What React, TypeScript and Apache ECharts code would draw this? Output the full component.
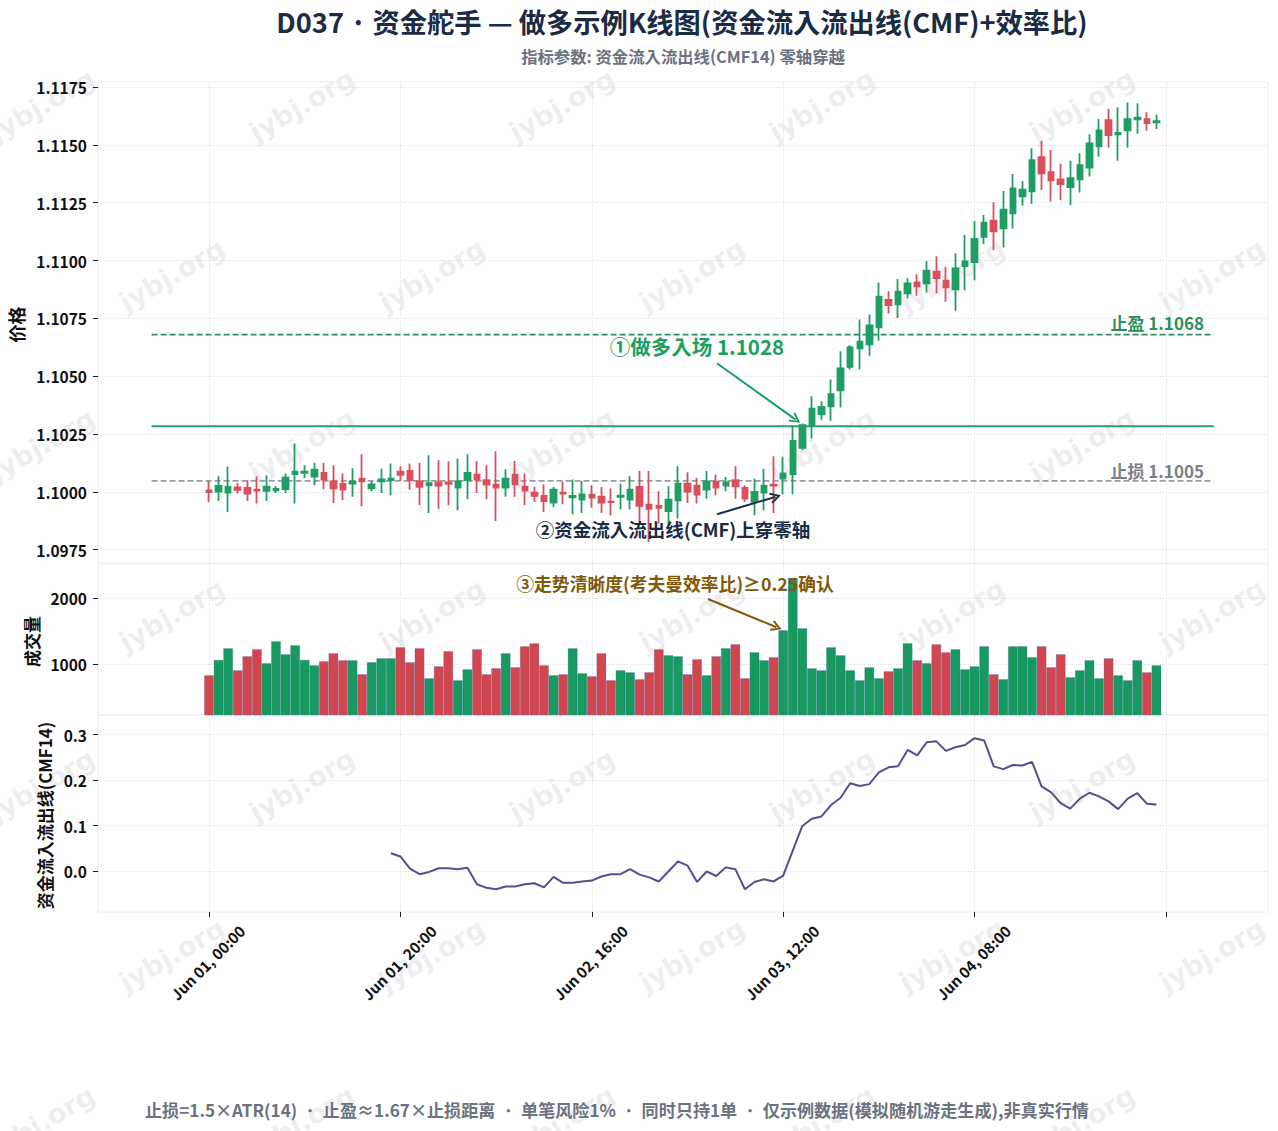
import React, { useEffect, useRef } from "react";
import * as echarts from "echarts";

const FONT = "'Noto Sans CJK JP', 'Noto Sans CJK SC', 'Noto Sans', sans-serif";
const WM_FONT = "'DejaVu Sans', sans-serif";
const titleText = "D037 · 资金舵手 — 做多示例K线图(资金流入流出线(CMF)+效率比)";
const subtitleText = "指标参数: 资金流入流出线(CMF14) 零轴穿越";
const footerText = "止损=1.5×ATR(14)  ·  止盈≈1.67×止损距离  ·  单笔风险1%  ·  同时只持1单  ·  仅示例数据(模拟随机游走生成),非真实行情";

const tickIndexes = [0, 20, 40, 60, 80, 100];
const tickLabels = ["Jun 01, 00:00", "Jun 01, 20:00", "Jun 02, 16:00", "Jun 03, 12:00", "Jun 04, 08:00", ""];
const priceTicks = [1.0975, 1.1, 1.1025, 1.105, 1.1075, 1.11, 1.1125, 1.115, 1.1175];
const volumeTicks = [1000, 2000];
const cmfTicks = [0, 0.1, 0.2, 0.3];

const opens = [
  1.10006, 1.10001, 1.09996, 1.10019, 1.10017, 1.10009, 1.10004, 1.10006, 1.10012, 1.10076,
  1.10082, 1.10066, 1.10082, 1.10045, 1.10034, 1.10035, 1.10057, 1.10015, 1.10045, 1.1005,
  1.10087, 1.1009, 1.10045, 1.10028, 1.10041, 1.10041, 1.10018, 1.1005, 1.10074, 1.1005,
  1.10031, 1.10018, 1.10074, 1.10022, 1.09996, 1.09982, 1.09953, 1.09996, 1.09976, 1.09966,
  1.09988, 1.09979, 1.09957, 1.09978, 1.09966, 1.10021, 1.09944, 1.09939, 1.09916, 1.09963,
  1.10035, 1.10027, 1.10009, 1.10044, 1.10027, 1.1005, 1.10017, 1.09956, 1.09996, 1.10031,
  1.10057, 1.10076, 1.1019, 1.10284, 1.10335, 1.10369, 1.10439, 1.1054, 1.1062, 1.10637,
  1.10711, 1.1083, 1.1081, 1.10858, 1.10905, 1.10901, 1.10952, 1.10913, 1.10875, 1.10976,
  1.10993, 1.11102, 1.11172, 1.11139, 1.11204, 1.11278, 1.11299, 1.11447, 1.11382, 1.11351,
  1.11317, 1.11351, 1.11402, 1.11494, 1.11607, 1.11546, 1.11563, 1.11611, 1.11611, 1.11598,
];
const closes = [
  1.09999, 1.10025, 1.10021, 1.10008, 1.09992, 1.10005, 1.10022, 1.10012, 1.10061, 1.10087,
  1.10087, 1.10096, 1.10053, 1.10014, 1.10009, 1.10044, 1.10045, 1.10032, 1.10053, 1.10057,
  1.10073, 1.1005, 1.10021, 1.10037, 1.10027, 1.10034, 1.10045, 1.10082, 1.10053, 1.10031,
  1.10018, 1.10057, 1.10032, 1.10005, 1.09982, 1.0996, 1.10009, 1.09992, 1.09982, 1.09989,
  1.09975, 1.09953, 1.09955, 1.09983, 1.10009, 1.09939, 1.09926, 1.09931, 1.09966, 1.10035,
  1.10001, 1.09988, 1.10045, 1.10018, 1.10041, 1.10024, 1.0997, 1.09999, 1.10027, 1.10027,
  1.10079, 1.1022, 1.10288, 1.1036, 1.10367, 1.10422, 1.10533, 1.10624, 1.10649, 1.10719,
  1.10844, 1.10807, 1.10865, 1.10901, 1.10888, 1.10956, 1.10924, 1.10884, 1.10966, 1.10996,
  1.11094, 1.11164, 1.11126, 1.1122, 1.11312, 1.11307, 1.11434, 1.11377, 1.11347, 1.1133,
  1.11356, 1.11412, 1.11507, 1.11563, 1.11542, 1.11552, 1.11611, 1.11618, 1.11594, 1.11603,
];
const highs = [
  1.10047, 1.10067, 1.10108, 1.10038, 1.1005, 1.10067, 1.10071, 1.10025, 1.10079, 1.10209,
  1.10115, 1.10126, 1.10125, 1.10115, 1.10079, 1.10102, 1.10162, 1.10047, 1.101, 1.10122,
  1.1011, 1.10122, 1.10126, 1.10158, 1.10136, 1.10132, 1.10144, 1.10162, 1.10132, 1.10115,
  1.10175, 1.10097, 1.10133, 1.10079, 1.10022, 1.10032, 1.10021, 1.10043, 1.10053, 1.10047,
  1.10028, 1.10021, 1.10014, 1.10035, 1.10067, 1.1009, 1.1009, 1.10002, 1.10024, 1.1011,
  1.10084, 1.10061, 1.1009, 1.10074, 1.10064, 1.1011, 1.10028, 1.10057, 1.101, 1.10154,
  1.10151, 1.10284, 1.10295, 1.10413, 1.10392, 1.10486, 1.10608, 1.10634, 1.10745, 1.10767,
  1.10905, 1.10867, 1.1092, 1.10923, 1.10941, 1.10998, 1.11019, 1.10973, 1.1103, 1.1111,
  1.11171, 1.11197, 1.11252, 1.11301, 1.11374, 1.11344, 1.11486, 1.11517, 1.11478, 1.11418,
  1.11431, 1.11464, 1.11546, 1.11612, 1.11656, 1.11663, 1.11683, 1.1168, 1.11641, 1.1163,
];
const lows = [
  1.09956, 1.0996, 1.09913, 1.09992, 1.0996, 1.09949, 1.0996, 1.09995, 1.09995, 1.09949,
  1.1006, 1.10028, 1.10011, 1.09952, 1.09963, 1.09978, 1.09937, 1.10002, 1.09995, 1.09985,
  1.10047, 1.10009, 1.09942, 1.09908, 1.09927, 1.09942, 1.0992, 1.09968, 1.09995, 1.09968,
  1.09874, 1.09978, 1.09978, 1.09942, 1.09956, 1.09913, 1.09934, 1.09946, 1.09903, 1.09908,
  1.09931, 1.09908, 1.09897, 1.09923, 1.09923, 1.09869, 1.09783, 1.09863, 1.09855, 1.09884,
  1.09952, 1.09949, 1.0997, 1.09985, 1.10002, 1.0997, 1.09956, 1.09898, 1.0992, 1.09908,
  1.09989, 1.09989, 1.1018, 1.1023, 1.10312, 1.10307, 1.10364, 1.10529, 1.10529, 1.10588,
  1.10653, 1.10771, 1.10752, 1.10836, 1.10848, 1.10862, 1.10858, 1.10822, 1.10783, 1.10872,
  1.10915, 1.11071, 1.11045, 1.11056, 1.11138, 1.11238, 1.11245, 1.11305, 1.11255, 1.11262,
  1.1124, 1.11294, 1.11363, 1.11449, 1.11488, 1.11431, 1.11488, 1.11548, 1.11561, 1.11569,
];
const volumes = [
  837, 1068, 1243, 912, 1123, 1228, 1018, 1348, 1153, 1288,
  1068, 987, 1048, 1168, 1063, 1063, 852, 1033, 1093, 1093,
  1258, 1033, 1243, 792, 972, 1198, 762, 927, 1228, 852,
  942, 1168, 957, 1273, 1318, 987, 837, 852, 1243, 867,
  822, 1168, 762, 912, 882, 777, 882, 1228, 1138, 1123,
  852, 1078, 837, 1123, 1243, 1303, 792, 1183, 1063, 1108,
  1514, 2301, 1544, 942, 912, 1258, 1138, 912, 762, 957,
  792, 897, 942, 1318, 1063, 1018, 1303, 1183, 1228, 927,
  972, 1273, 852, 777, 1273, 1273, 1108, 1273, 957, 1153,
  807, 912, 1063, 792, 1093, 837, 762, 1063, 882, 987,
];
const cmfStartIndex = 19;
const cmfValues = [
  0.039, 0.032, 0.005, -0.007, -0.002, 0.006, 0.006, 0.004, 0.007, -0.029,
  -0.037, -0.04, -0.034, -0.034, -0.029, -0.027, -0.036, -0.013, -0.026, -0.026,
  -0.023, -0.021, -0.012, -0.007, -0.007, 0.004, -0.008, -0.014, -0.023, -0.001,
  0.021, 0.012, -0.024, -0.001, -0.011, 0.008, 0.004, -0.04, -0.024, -0.018,
  -0.023, -0.01, 0.045, 0.099, 0.115, 0.12, 0.145, 0.161, 0.193, 0.187,
  0.191, 0.217, 0.228, 0.23, 0.266, 0.254, 0.283, 0.285, 0.264, 0.272,
  0.277, 0.292, 0.287, 0.23, 0.224, 0.233, 0.232, 0.24, 0.186, 0.173,
  0.149, 0.137, 0.159, 0.172, 0.164, 0.153, 0.136, 0.159, 0.171, 0.148, 0.146,
];

const entryPrice = 1.10283;
const takeProfitPrice = 1.1068;
const stopLossPrice = 1.10047;
const levelXRange = [-6, 105];

const UP = "#1f9e63";
const DOWN = "#d9505c";
const VOL_UP = "#17995f";
const VOL_DOWN = "#d2464f";
const GRID_LINE = "#dfe1e5";
const chevron = "path://M5 0 L10 9 L8.6 10 L5 3.4 L1.4 10 L0 9 Z";

const wmRows = [105, 275, 445, 615, 785, 955, 1122];
const wmColsOdd = [42, 302, 562, 822, 1082];
const wmColsEven = [172, 432, 692, 952, 1212];

function xAxisBase(gridIndex: number, showLabels: boolean) {
  return {
    type: "value",
    gridIndex,
    min: -11.6,
    max: 110.66,
    containShape: false,
    axisLine: { show: false, onZero: false },
    axisTick: { show: showLabels, customValues: tickIndexes, length: 5, lineStyle: { color: "#222", width: 1 } },
    axisLabel: {
      show: showLabels,
      customValues: tickIndexes,
      rotate: 45,
      margin: 49,
      align: "center",
      verticalAlign: "middle",
      padding: [0, 4, 0, 0],
      fontFamily: FONT,
      fontWeight: 700,
      fontSize: 15,
      color: "#111",
      formatter: (v: number) => tickLabels[tickIndexes.indexOf(v)] ?? "",
    },
    splitLine: { show: true, lineStyle: { color: GRID_LINE, type: "dotted", width: 1 } },
  };
}

function yAxisBase(gridIndex: number, ticks: number[], min: number, max: number, digits: number, name: string, nameGap: number, nameSize: number) {
  return {
    type: "value",
    gridIndex,
    min,
    max,
    name,
    nameLocation: "middle",
    nameGap,
    nameTextStyle: { fontFamily: FONT, fontWeight: 700, fontSize: nameSize, color: "#111", padding: [0, 4, 0, 0] },
    axisLine: { show: false, onZero: false },
    axisTick: { show: true, customValues: ticks, length: 5, lineStyle: { color: "#222", width: 1 } },
    axisLabel: {
      customValues: ticks,
      margin: 11,
      padding: [0, 0, 2, 0],
      fontFamily: FONT,
      fontWeight: 700,
      fontSize: 15.5,
      color: "#111",
      formatter: (v: number) => v.toFixed(digits),
    },
    splitLine: { show: true, lineStyle: { color: GRID_LINE, type: "dotted", width: 1 } },
  };
}

function levelLine(name: string, price: number, color: string, type: any, width: number) {
  return {
    type: "line",
    name,
    xAxisIndex: 0,
    yAxisIndex: 0,
    data: levelXRange.map((x) => [x, price]),
    showSymbol: false,
    symbol: "none",
    silent: true,
    z: 3,
    lineStyle: { color, type, width },
  };
}

function arrow(color: string, from: number[], to: number[]) {
  const lineStyle = { color, type: "solid", width: 2 };
  return [
    { coord: from, symbol: "none", lineStyle },
    { coord: to, symbol: chevron, symbolSize: 11, lineStyle },
  ];
}

function label(text: string, x: number, y: number, size: number, color: string, align = "center") {
  return {
    type: "text",
    z: 50,
    x,
    y,
    style: { text, fontFamily: FONT, fontWeight: 700, fontSize: size, fill: color, align, verticalAlign: "middle" },
  };
}

export default function App() {
  const ref = useRef<HTMLDivElement>(null);
  useEffect(() => {
    const chart = echarts.init(ref.current!, undefined, { renderer: "svg" });
    const candles = opens.map((o, i) => [i, o, closes[i], lows[i], highs[i]]);
    const volData = volumes.map((v, i) => ({
      value: [i, v],
      itemStyle: { color: closes[i] >= opens[i] ? VOL_UP : VOL_DOWN },
    }));
    const cmfData = cmfValues.map((v, i) => [cmfStartIndex + i, v]);

    const watermarks: any[] = [];
    wmRows.forEach((y, r) => {
      (r % 2 === 0 ? wmColsOdd : wmColsEven).forEach((x) => {
        watermarks.push({
          type: "text",
          z: -10,
          x,
          y,
          rotation: Math.PI / 6,
          silent: true,
          style: {
            text: "jybj.org",
            fontFamily: WM_FONT,
            fontWeight: 700,
            fontSize: 27,
            fill: "rgba(120,125,135,0.13)",
            align: "center",
            verticalAlign: "middle",
          },
        });
      });
    });

    const gridBase = { left: 98, width: 1170, show: true, borderColor: "#eceef0", borderWidth: 1, outerBoundsMode: "none" };
    chart.setOption({
      animation: false,
      backgroundColor: "#ffffff",
      title: [
        { text: titleText, left: 682, top: 7, padding: 0, textAlign: "center", textStyle: { fontFamily: FONT, fontWeight: 700, fontSize: 27.25, color: "#1a2b45" } },
        { text: subtitleText, left: 683, top: 48, padding: 0, textAlign: "center", textStyle: { fontFamily: FONT, fontWeight: 700, fontSize: 16.35, color: "#6b7280" } },
        { text: footerText, left: 617, top: 1101, padding: 0, textAlign: "center", textStyle: { fontFamily: FONT, fontWeight: 700, fontSize: 17.1, color: "#6b7280" } },
      ],
      grid: [
        { ...gridBase, top: 82, height: 481 },
        { ...gridBase, top: 564, height: 151 },
        { ...gridBase, top: 715, height: 197 },
      ],
      xAxis: [xAxisBase(0, false), xAxisBase(1, false), xAxisBase(2, true)],
      yAxis: [
        yAxisBase(0, priceTicks, 1.09692, 1.11772, 4, "价格", 67, 18),
        yAxisBase(1, volumeTicks, 240, 2511, 0, "成交量", 52, 17),
        yAxisBase(2, cmfTicks, -0.0901, 0.3429, 1, "资金流入流出线(CMF14)", 40, 17),
      ],
      graphic: [
        ...watermarks,
        label("①做多入场 1.1028", 697, 346, 20.5, "#18a05e"),
        label("②资金流入流出线(CMF)上穿零轴", 673, 529, 18.5, "#1a2b45"),
        label("③走势清晰度(考夫曼效率比)≥0.25确认", 675, 583, 17.8, "#7f5a0a"),
        label("止盈 1.1068", 1204, 322, 17, "#2f8f5f", "right"),
        label("止损 1.1005", 1204, 470, 17, "#7a808a", "right"),
      ],
      series: [
        {
          type: "candlestick",
          name: "K线",
          xAxisIndex: 0,
          yAxisIndex: 0,
          data: candles,
          encode: { x: 0, y: [1, 2, 3, 4] },
          barWidth: 6,
          z: 4,
          itemStyle: { color: UP, color0: DOWN, borderColor: UP, borderColor0: DOWN, borderWidth: 1.8 },
          markLine: {
            silent: true,
            animation: false,
            label: { show: false },
            data: [
              arrow("#18a05e", [53.08, 1.10556], [61.3, 1.10312]),
              arrow("#1a2b45", [53.08, 1.09903], [59.2, 1.09978]),
            ],
          },
        },
        levelLine("止盈", takeProfitPrice, "#2f8f5f", [6, 3], 1.8),
        levelLine("入场", entryPrice, "#2f9e6b", "solid", 2),
        levelLine("止损", stopLossPrice, "#9a9da3", [6, 3], 1.8),
        {
          type: "bar",
          name: "成交量",
          xAxisIndex: 1,
          yAxisIndex: 1,
          data: volData,
          barWidth: 9.6,
          z: 3,
          itemStyle: { borderColor: "rgba(60,100,170,0.55)", borderWidth: 0.5 },
          markLine: {
            silent: true,
            animation: false,
            label: { show: false },
            data: [arrow("#7f5a0a", [52.14, 1985], [59.3, 1560])],
          },
        },
        {
          type: "line",
          name: "CMF14",
          xAxisIndex: 2,
          yAxisIndex: 2,
          data: cmfData,
          showSymbol: false,
          symbol: "none",
          lineStyle: { color: "#52508e", width: 2 },
        },
      ],
    });
    return () => chart.dispose();
  }, []);
  return <div ref={ref} style={{ position: "absolute", left: 0, top: 0, width: 1278, height: 1131 }} />;
}
